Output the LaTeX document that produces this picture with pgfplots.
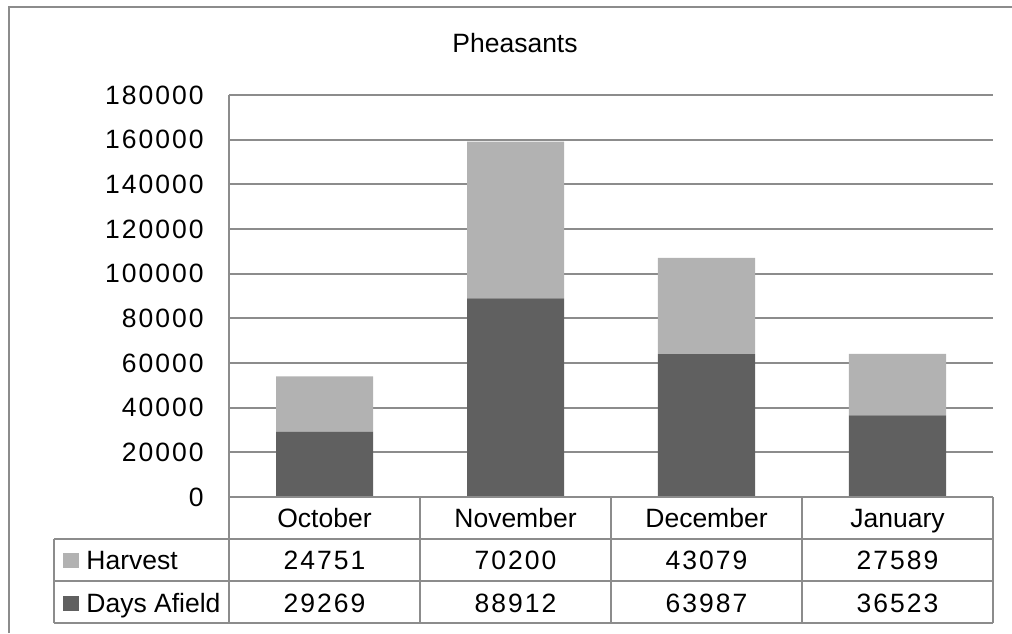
\documentclass[border=0pt]{standalone}
\usepackage{pgfplots}
\pgfplotsset{compat=1.18}
\usepackage{fontspec}
\setmainfont{Liberation Sans}
\newfontfamily\numfont[LetterSpace=7.5]{Liberation Sans}
\definecolor{harv}{RGB}{178,178,178}
\definecolor{days}{RGB}{96,96,96}
\definecolor{rule}{RGB}{140,140,140}
\newcommand\fs{\fontsize{13.25}{15}\selectfont}

\begin{document}
\begin{tikzpicture}[font=\fs]
\begin{scope}[x=0.5pt,y=0.5pt]
\path[use as bounding box] (0,0) rectangle (1012,633);
% chart frame (only left and top edges are visible)
\draw[rule,line width=1pt] (9,0) -- (9,626) -- (1012,626);
\node[anchor=base,inner sep=0pt] at (515,580) {Pheasants};
\end{scope}

\begin{axis}[
  at={(114.5pt,68pt)}, anchor=south west,
  scale only axis, width=382pt, height=201pt,
  ybar stacked, bar width=48.5pt,
  xmin=0.5, xmax=4.5, ymin=0, ymax=180000,
  ytick={0,20000,40000,60000,80000,100000,120000,140000,160000,180000},
  yticklabels={0,20000,40000,60000,80000,100000,120000,140000,160000,180000},
  xtick=\empty,
  ymajorgrids, grid style={rule,line width=0.9pt},
  axis x line=none, axis y line=left,
  axis line style={rule,line width=0.9pt,-},
  major tick length=0pt,
  yticklabel style={font=\numfont\fs, inner sep=0pt, anchor=east, xshift=-12.5pt},
  scaled y ticks=false,
  clip=false,
]
\addplot[fill=days, draw=none] coordinates {(1,29269) (2,88912) (3,63987) (4,36523)};
\addplot[fill=harv, draw=none] coordinates {(1,24751) (2,70200) (3,43079) (4,27589)};
\end{axis}

% data table
\begin{scope}[x=0.5pt,y=0.5pt]
\begin{scope}[rule,line width=0.9pt]
\draw (229,136) -- (993,136);
\draw (54,94) -- (993,94);
\draw (54,52) -- (993,52);
\draw (54,10) -- (993,10);
\draw (54,94) -- (54,10);
\foreach \x in {229,420,611,802,993} \draw (\x,136) -- (\x,10);
\end{scope}
\fill[harv] (63,65) rectangle (79,80);
\fill[days] (63,22) rectangle (79,37);
\node[anchor=base west,inner sep=0pt] at (86,64) {Harvest};
\node[anchor=base west,inner sep=0pt] at (86,21) {Days Afield};
\foreach \x/\m/\h/\d in {324.5/October/24751/29269, 515.5/November/70200/88912,
    706.5/December/43079/63987, 897.5/January/27589/36523} {
  \node[anchor=base,inner sep=0pt] at (\x,106) {\m};
  \node[anchor=base,inner sep=0pt,font=\numfont\fs] at (\x,64) {\h};
  \node[anchor=base,inner sep=0pt,font=\numfont\fs] at (\x,21) {\d};
}
\end{scope}
\end{tikzpicture}
\end{document}
